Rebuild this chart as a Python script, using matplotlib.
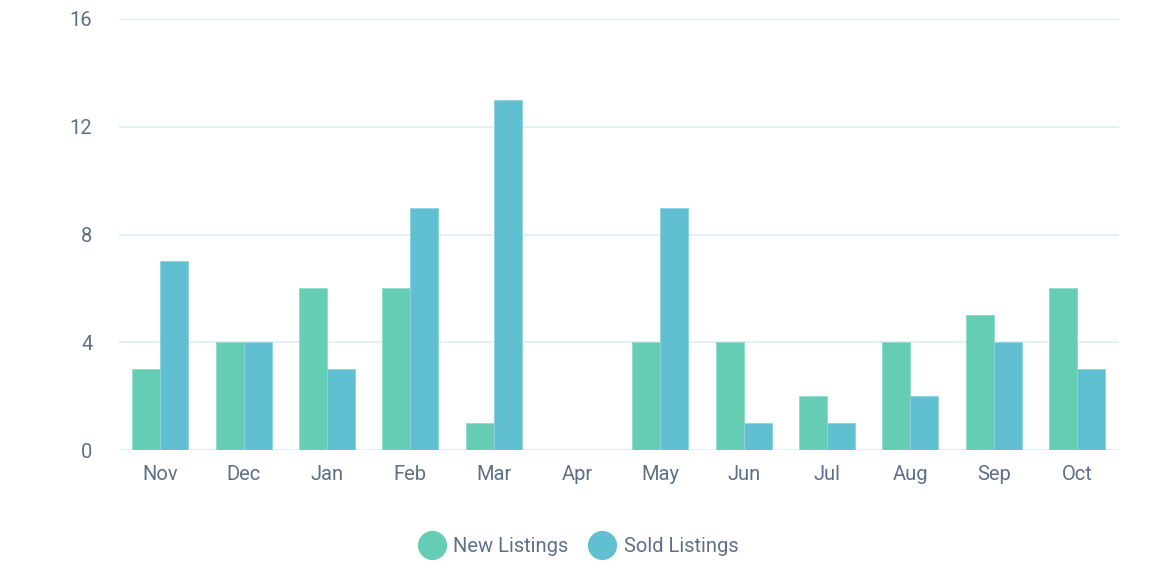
import matplotlib
matplotlib.use("Agg")
import matplotlib.pyplot as plt
from matplotlib.lines import Line2D
import numpy as np

months = ["Nov", "Dec", "Jan", "Feb", "Mar", "Apr", "May", "Jun", "Jul", "Aug", "Sep", "Oct"]
new_listings = [3, 4, 6, 6, 1, 0, 4, 4, 2, 4, 5, 6]
sold_listings = [7, 4, 3, 9, 13, 0, 9, 1, 1, 2, 4, 3]
y_ticks = [0, 4, 8, 12, 16]

GREEN = "#66cdb5"
BLUE = "#61bfd2"
TEXT = "#5f6f88"
GRID = "#e0f1f7"

plt.rcParams["font.family"] = ["Roboto", "DejaVu Sans"]

fig = plt.figure(figsize=(11.6, 5.8), dpi=100)
ax = fig.add_axes([118.7 / 1160, 1 - 450 / 580, 1000 / 1160, 431 / 580])

x = np.arange(len(months))
w = 0.336
ax.bar(x - w / 2, new_listings, w, color=GREEN, edgecolor="#8fdcc9", linewidth=0.6, zorder=3)
ax.bar(x + w / 2, sold_listings, w, color=BLUE, edgecolor="#8dd2e1", linewidth=0.6, zorder=3)

ax.set_xlim(-0.5, len(months) - 0.5)
ax.set_ylim(0, 16)
ax.set_yticks(y_ticks)
ax.set_xticks(x)
ax.set_xticklabels(months)
ax.grid(axis="y", color=GRID, linewidth=1.5, zorder=0)
ax.set_axisbelow(True)
for s in ax.spines.values():
    s.set_visible(False)
ax.axhline(0, color=GRID, linewidth=1.5, zorder=1)
ax.tick_params(axis="both", length=0, labelsize=14.5, labelcolor=TEXT)
ax.tick_params(axis="y", pad=19)
ax.tick_params(axis="x", pad=11)

handles = [
    Line2D([], [], marker="o", linestyle="", markersize=20, color=GREEN, label="New Listings"),
    Line2D([], [], marker="o", linestyle="", markersize=20, color=BLUE, label="Sold Listings"),
]
leg = fig.legend(handles=handles, loc="center", bbox_to_anchor=(578 / 1160, 1 - 546.5 / 580),
                 ncol=2, frameon=False, fontsize=14.5, handletextpad=0.35, columnspacing=1.0,
                 handlelength=1.4)
for t in leg.get_texts():
    t.set_color(TEXT)

fig.savefig("out.png", dpi=100)
